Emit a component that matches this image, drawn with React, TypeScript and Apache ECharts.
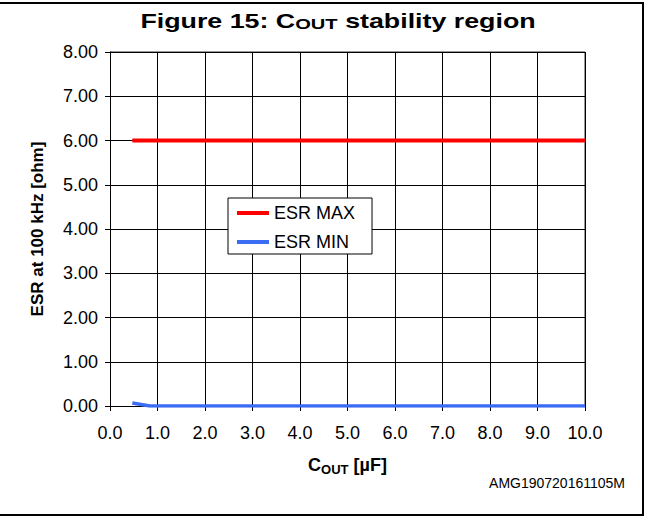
import React, { useEffect, useRef } from "react";
import * as echarts from "echarts";

const xTicks = [0, 1, 2, 3, 4, 5, 6, 7, 8, 9, 10];
const esrMax: [number, number][] = [
  [0.47, 6.0],
  [10.0, 6.0],
];
const esrMin: [number, number][] = [
  [0.47, 0.07],
  [0.84, 0.0],
  [10.0, 0.0],
];
const seriesNames = ["ESR MAX", "ESR MIN"];
const seriesColors = ["#ff0000", "#3a6cf4"];

const FONT = "Liberation Sans, Arial, sans-serif";

export default function App() {
  const ref = useRef<HTMLDivElement>(null);
  useEffect(() => {
    if (!ref.current) return;
    const chart = echarts.init(ref.current, null, { renderer: "svg" });
    chart.setOption({
      animation: false,
      backgroundColor: "#fff",
      textStyle: { fontFamily: FONT },
      grid: { left: 110, right: 60, top: 52, bottom: 112, containLabel: false, show: false },
      legend: {
        orient: "vertical",
        left: 228,
        top: 198,
        itemWidth: 32,
        itemHeight: 4,
        itemGap: 11,
        padding: [6, 17, 3, 9],
        borderColor: "#000",
        borderWidth: 1,
        backgroundColor: "#fff",
        icon: "rect",
        textStyle: { fontSize: 18, color: "#000", fontFamily: FONT, lineHeight: 18 },
        data: seriesNames,
      },
      xAxis: {
        type: "value",
        min: 0,
        max: 10,
        interval: 1,
        name: "{a|C}{b|OUT}{a| [µF]}",
        nameLocation: "middle",
        nameGap: 48,
        nameTextStyle: {
          rich: {
            a: { fontSize: 18, fontWeight: "bold", color: "#000", fontFamily: FONT },
            b: { fontSize: 13, fontWeight: "bold", color: "#000", fontFamily: FONT, padding: [9, 0, 0, 0] },
          },
        },
        axisLine: { show: true, lineStyle: { color: "#000", width: 1 } },
        axisTick: { show: true, inside: false, length: 5, lineStyle: { color: "#000" } },
        axisLabel: {
          fontSize: 18,
          color: "#000",
          margin: 18,
          formatter: (v: number) => (xTicks.includes(v) ? v.toFixed(1) : ""),
        },
        splitLine: { show: true, lineStyle: { color: "#000", width: 1 } },
      },
      yAxis: {
        type: "value",
        min: 0,
        max: 8,
        interval: 1,
        name: "ESR at 100 kHz [ohm]",
        nameLocation: "middle",
        nameGap: 64,
        nameTextStyle: { fontSize: 17, fontWeight: "bold", color: "#000", fontFamily: FONT },
        axisLine: { show: true, lineStyle: { color: "#000", width: 1 } },
        axisTick: { show: true, inside: false, length: 5, lineStyle: { color: "#000" } },
        axisLabel: {
          fontSize: 18,
          color: "#000",
          margin: 12,
          formatter: (v: number) => v.toFixed(2),
        },
        splitLine: { show: true, lineStyle: { color: "#000", width: 1 } },
      },
      graphic: [
        {
          type: "rect",
          shape: { x: -4, y: 3, width: 647, height: 512 },
          style: { fill: "none", stroke: "#000", lineWidth: 2 },
          silent: true,
        },
        {
          type: "line",
          shape: { x1: 110, y1: 52, x2: 585, y2: 52 },
          style: { stroke: "#333", lineWidth: 1 },
          silent: true,
        },
        {
          type: "line",
          shape: { x1: 585, y1: 52, x2: 585, y2: 406 },
          style: { stroke: "#333", lineWidth: 1 },
          silent: true,
        },
        {
          type: "text",
          x: 338,
          y: 20,
          scaleX: 1.34,
          style: {
            text: "{a|Figure 15: C}{b|OUT}{a| stability region}",
            textAlign: "center",
            textVerticalAlign: "middle",
            rich: {
              a: { fontSize: 20, fontWeight: "bold", fill: "#000", color: "#000", fontFamily: FONT, verticalAlign: "bottom", lineHeight: 22 },
              b: { fontSize: 15, fontWeight: "bold", fill: "#000", color: "#000", fontFamily: FONT, verticalAlign: "bottom", lineHeight: 20 },
            },
          },
        },
        {
          type: "text",
          right: 20,
          top: 476,
          style: { text: "AMG190720161105M", fontSize: 14, fill: "#000", fontFamily: FONT },
        },
      ],
      series: [
        {
          name: seriesNames[0],
          type: "line",
          data: esrMax,
          showSymbol: false,
          symbol: "none",
          lineStyle: { color: seriesColors[0], width: 4 },
          itemStyle: { color: seriesColors[0] },
          z: 3,
        },
        {
          name: seriesNames[1],
          type: "line",
          data: esrMin,
          showSymbol: false,
          symbol: "none",
          lineStyle: { color: seriesColors[1], width: 3.5 },
          itemStyle: { color: seriesColors[1] },
          z: 3,
        },
      ],
    });
    return () => chart.dispose();
  }, []);
  return (
    <div
      ref={ref}
      style={{ position: "absolute", left: 0, top: 0, width: 645, height: 518 }}
    />
  );
}
